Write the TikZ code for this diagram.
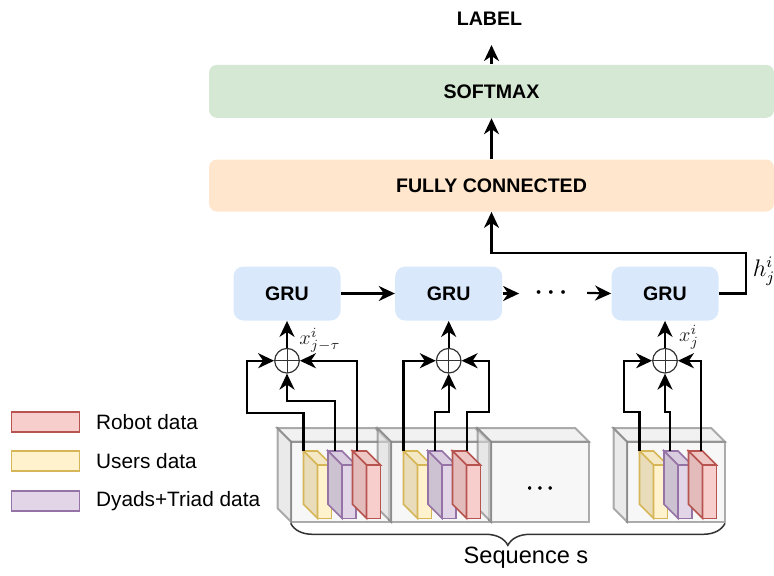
\documentclass[tikz,border=0pt]{standalone}
\usepackage{fontspec}
\setmainfont{Liberation Sans}
\usetikzlibrary{arrows.meta,positioning,decorations.pathreplacing}
\definecolor{smax}{HTML}{D5E8D4}
\definecolor{fcon}{HTML}{FFE6CC}
\definecolor{gru}{HTML}{DAE8FC}
\definecolor{usr}{HTML}{FFF2CC}
\definecolor{usrline}{HTML}{D6B656}
\definecolor{dya}{HTML}{E1D5E7}
\definecolor{dyaline}{HTML}{9673A6}
\definecolor{rob}{HTML}{F8CECC}
\definecolor{robline}{HTML}{B85450}
\definecolor{cubefill}{HTML}{F2F2F2}
\definecolor{cubeline}{HTML}{777777}

% cuboid: fill, stroke, extra style, front-left x, front top, width, front bottom, depth
\newcommand{\drawcube}[8]{%
  \filldraw[fill=#1,draw=#2,#3] (#4,#5) rectangle ({#4+#6},#7);
  \filldraw[fill=#1!96!black,draw=#2,#3] ({#4-#8},{#5-#8}) -- ({#4+#6-#8},{#5-#8}) -- ({#4+#6},#5) -- (#4,#5) -- cycle;
  \filldraw[fill=#1!91!black,draw=#2,#3] ({#4-#8},{#5-#8}) -- (#4,#5) -- (#4,#7) -- ({#4-#8},{#7-#8}) -- cycle;
}

\begin{document}
\begin{tikzpicture}[x=0.5pt,y=-0.5pt,
  box/.style={rounded corners=4pt,inner sep=0pt,font=\fontsize{9.8}{12}\selectfont\bfseries},
  wire/.style={line width=1.1pt},
  arr/.style={line width=1.1pt,-{Stealth[length=8pt,width=7.5pt,inset=2.5pt]}},
  sum/.style={circle,draw=black!80,line width=0.6pt,minimum size=12.3pt,inner sep=0pt,
    path picture={\draw[line width=0.5pt,black!80] (path picture bounding box.north) -- (path picture bounding box.south)
      (path picture bounding box.west) -- (path picture bounding box.east);}},
  key/.style={draw,line width=0.75pt,minimum width=34pt,minimum height=10pt,inner sep=0pt},
  keytext/.style={font=\fontsize{10.4}{12}\selectfont,inner sep=1pt}]
  \useasboundingbox (0,0) rectangle (774,575);

  % Output layers
  \node[box,fill=smax,minimum width=282.5pt,minimum height=26.5pt] (sm) at (491.5,91.3) {SOFTMAX};
  \node[box,fill=fcon,minimum width=282.5pt,minimum height=26pt] (fc) at (491.5,185.5) {FULLY CONNECTED};
  \node[font=\fontsize{9.8}{12}\selectfont\bfseries,inner sep=0pt] (lbl) at (489.5,18.3) {LABEL};
  \draw[arr,shorten >=9.8pt] (sm.north) -- (sm.north |- lbl.south);
  \draw[arr] (fc) -- (sm);

  % GRU chain
  \node[box,fill=gru,rounded corners=5pt,minimum width=53.5pt,minimum height=27pt] (g1) at (287,293.5) {GRU};
  \node[box,fill=gru,rounded corners=5pt,minimum width=53.5pt,minimum height=27pt] (g2) at (448.7,293.5) {GRU};
  \node[box,fill=gru,rounded corners=5pt,minimum width=53.5pt,minimum height=27pt] (g3) at (665,293.5) {GRU};
  \draw[arr] (g1) -- (g2);
  \draw[arr] (g2.east) -- ++(16.5,0);
  \node[font=\fontsize{12.4}{14}\selectfont\boldmath] (dots) at (551,292.5) {$\cdots$};
  \draw[arr,shorten <=6.5pt] (dots.east) -- (g3.west);

  % Hidden state back to the dense layer
  \draw[arr] (g3.east) -- ++(27.3,0) -- ++(0,-40.2) -| (fc.south);
  \node[font=\fontsize{11.5}{13}\selectfont] (h) at (764,271) {$h^i_j$};

  % Concatenation
  \node[sum] (s1) at (287,360.7) {};
  \node[sum] (s2) at (448.7,360.7) {};
  \node[sum] (s3) at (665,360.7) {};
  \foreach \i in {1,2,3}
    \draw[arr] (s\i) -- (g\i);
  \node[font=\fontsize{10}{12}\selectfont,black!85] (xa) at (320,340) {$x^i_{j-\tau}$};
  \node[font=\fontsize{10}{12}\selectfont,black!85] (xb) at (689,337) {$x^i_j$};

  % Time steps
  \foreach \fx in {291,391,491,627}
    \drawcube{cubefill}{cubeline}{line width=1pt,fill opacity=0.6,draw opacity=0.6}{\fx}{441.7}{98}{521.7}{13.5}
  \node[font=\fontsize{9.8}{12}\selectfont\boldmath] (dots2) at (540,489) {$\cdots$};

  % Data per step
  \foreach \fx in {291,391,627}
    \foreach \off/\col/\ln in {12.5/usr/usrline,37/dya/dyaline,61.5/rob/robline} {
      \pgfmathsetmacro{\bx}{\fx+\off+14}
      \drawcube{\col}{\ln}{line width=0.8pt}{\bx}{465}{14}{518.3}{14}
    }

  % Wires
  \coordinate (y1) at (303.5,451); \coordinate (p1) at (335,451); \coordinate (r1) at (357,451);
  \coordinate (y2) at (403.5,451); \coordinate (p2) at (435,451); \coordinate (r2) at (467,451);
  \coordinate (y3) at (639.5,451); \coordinate (p3) at (670,451); \coordinate (r3) at (701,451);
  \draw[arr] (y1) |- (246.7,412.7) |- (s1.west);
  \draw[arr] (p1) |- (287,400.7) -- (s1.south);
  \draw[arr] (r1) |- (s1.east);
  \draw[arr] (y2) |- (s2.west);
  \draw[arr] (p2) |- (448.7,411.7) -- (s2.south);
  \draw[arr] (r2) |- (489.3,411.7) |- (s2.east);
  \draw[arr] (y3) |- (624,411.7) |- (s3.west);
  \draw[arr] (p3) |- (665,411.7) -- (s3.south);
  \draw[arr] (r3) |- (s3.east);

  % Legend
  \node[key,fill=rob,draw=robline] (robkey) at (45.5,422) {};
  \node[key,fill=usr,draw=usrline] (usrkey) at (45.5,461) {};
  \node[key,fill=dya,draw=dyaline] (dyakey) at (45.5,501) {};
  \node[keytext,right=6.75pt of robkey] (robtxt) {Robot data};
  \node[keytext,right=6.75pt of usrkey] (usrtxt) {Users data};
  \node[keytext,right=6.75pt of dyakey] (dyatxt) {Dyads+Triad data};

  % Sequence brace
  \draw[line width=0.75pt,black!80,decorate,decoration={brace,amplitude=11pt,mirror}] (290.7,523.3) -- (725,523.3);
  \node[font=\fontsize{11.8}{14}\selectfont] (seq) at (526,558) {Sequence s};
\end{tikzpicture}
\end{document}
